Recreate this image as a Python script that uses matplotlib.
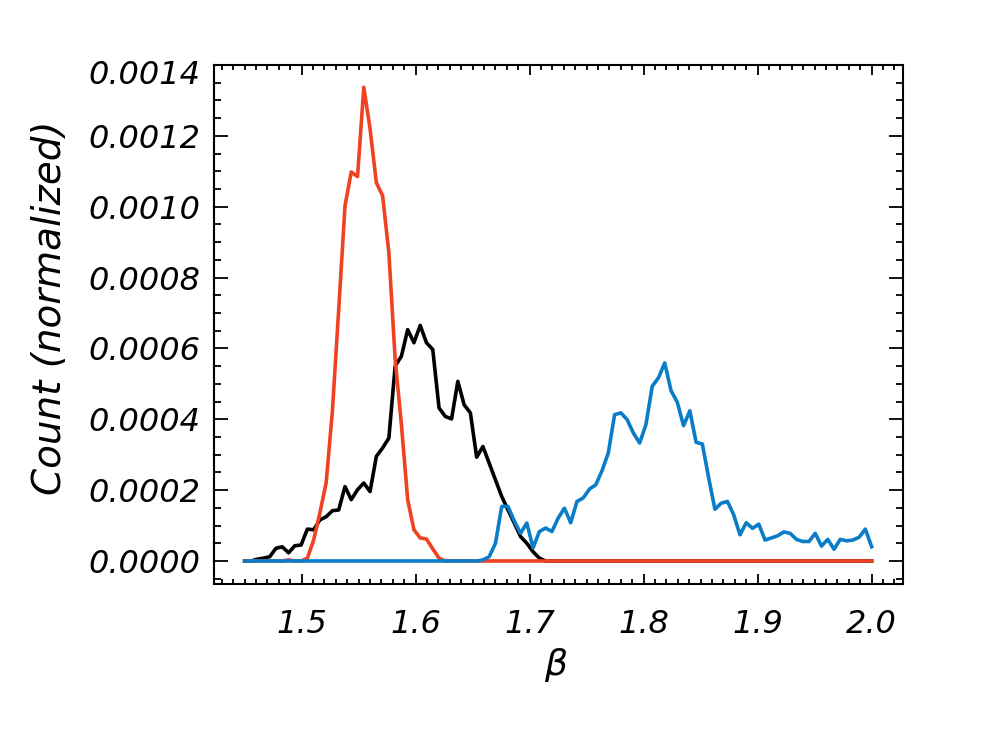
import numpy as np
import matplotlib
matplotlib.use("Agg")
import matplotlib.pyplot as plt
from matplotlib.ticker import MultipleLocator, FormatStrFormatter, FixedLocator, FuncFormatter

# ---- data (values in units of 1e-4) ----
BETA_START = 1.45
BETA_STEP = 0.0055

black_vals = [0, 0,
              0.05, 0.08, 0.12, 0.36, 0.40, 0.23, 0.43, 0.45, 0.90, 0.88,
              1.16, 1.25, 1.42, 1.44, 2.10, 1.73, 2.01, 2.20, 1.96, 2.95,
              3.19, 3.47, 5.50, 5.78, 6.53, 6.16, 6.65, 6.16, 5.97, 4.32,
              4.08, 4.01, 5.07, 4.41, 4.18, 2.93, 3.23, 2.76, 2.29, 1.82,
              1.44, 1.07, 0.69, 0.50, 0.26, 0.08] + [0] * 53

red_vals = [0] * 7 + [0.03, 0, 0] + \
           [0.08, 0.59, 1.36, 2.21, 4.25, 7.1, 10.02, 10.98, 10.85, 13.37,
            12.2, 10.68, 10.31, 8.7, 5.7, 3.85, 1.73, 0.88, 0.65, 0.62,
            0.34, 0.08] + [0] * 69

blue_vals = [0] * 38 + \
            [0.03, 0.12, 0.50, 1.54, 1.54, 1.13, 0.78, 1.07, 0.37, 0.83,
             0.93, 0.83, 1.21, 1.49, 1.08, 1.68, 1.78, 2.03, 2.15, 2.55,
             3.05, 4.13, 4.18, 3.99, 3.61, 3.33, 3.85, 4.93, 5.17, 5.59,
             4.81, 4.48, 3.82, 4.24, 3.35, 3.30, 2.35, 1.46, 1.63, 1.68,
             1.30, 0.74, 1.08, 0.92, 1.04, 0.59, 0.65, 0.71, 0.82, 0.78,
             0.61, 0.55, 0.55, 0.78, 0.42, 0.61, 0.33, 0.61, 0.57, 0.59,
             0.67, 0.90, 0.40]

x_ticks = [1.5, 1.6, 1.7, 1.8, 1.9, 2.0]
y_ticks = [0.0, 0.0002, 0.0004, 0.0006, 0.0008, 0.0010, 0.0012, 0.0014]

black = np.array(black_vals) * 1e-4
red = np.array(red_vals) * 1e-4
blue = np.array(blue_vals) * 1e-4
beta = BETA_START + BETA_STEP * np.arange(len(black))

# ---- figure ----
plt.rcParams['font.family'] = ['DejaVu Sans']
plt.rcParams['font.style'] = 'italic'

W, H = 992, 738
fig = plt.figure(figsize=(W / 100, H / 100), dpi=100)
L, R, T, B = 214, 903, 65, 584
ax = fig.add_axes([L / W, 1 - B / H, (R - L) / W, (B - T) / H])

lw = 2.6
ax.plot(beta, black, color='black', lw=lw)
ax.plot(beta, red, color='#f04123', lw=lw)
ax.plot(beta, blue, color='#0a7dc8', lw=lw)

ax.set_xlim(1.4231, 2.0275)
ax.set_ylim(-0.000065, 0.0014)

TICK_FS = 23
ax.xaxis.set_major_locator(FixedLocator(x_ticks))
ax.xaxis.set_minor_locator(MultipleLocator(0.01))
ax.yaxis.set_major_locator(FixedLocator(y_ticks))
ax.yaxis.set_minor_locator(MultipleLocator(0.00005))
ax.xaxis.set_major_formatter(FormatStrFormatter('%.1f'))
top_tick = y_ticks[-1]
ax.yaxis.set_major_formatter(FuncFormatter(
    lambda v, p: '' if abs(v - top_tick) < 1e-9 else '%.4f' % v))

for s in ax.spines.values():
    s.set_linewidth(1.5)

ax.tick_params(which='both', direction='in', top=True, right=True,
               width=1.3, labelsize=TICK_FS)
ax.tick_params(axis='x', which='major', length=7.2, pad=18)
ax.tick_params(axis='x', which='minor', length=3.6)
ax.tick_params(axis='y', which='major', length=10, pad=10)
ax.tick_params(axis='y', which='minor', length=5)

# top y label sits a little below its tick, as in the original
ax.annotate('%.4f' % top_tick, xy=(0, top_tick),
            xycoords=('axes fraction', 'data'),
            xytext=(-14, -11), textcoords='offset pixels',
            ha='right', va='center', fontsize=TICK_FS, style='italic')

fig.text(50 / W, 1 - 308 / H, 'Count (normalized)', rotation=90,
         ha='center', va='center', fontsize=28, style='italic')
fig.text(556 / W, 1 - 665 / H, r'$\beta$', ha='center', va='center',
         fontsize=26)

fig.savefig('out.png', dpi=100)
